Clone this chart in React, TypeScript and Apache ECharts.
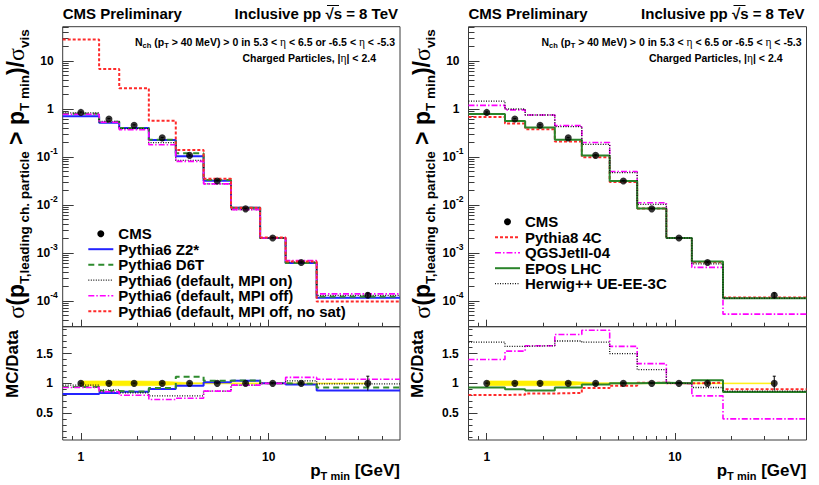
import { useEffect, useRef } from 'react';
import * as echarts from 'echarts';

// ---------------- data ----------------
const binEdges = [0.8, 1.25, 1.6, 2.3, 3.2, 4.5, 6.3, 9, 12.3, 18, 50];
const ptCenters = [1.0, 1.41, 1.92, 2.71, 3.79, 5.32, 7.53, 10.5, 14.9, 33.7];

const cmsValues = [0.85, 0.62, 0.46, 0.25, 0.108, 0.0316, 0.0083, 0.00205, 6.3e-4, 1.31e-4];
const cmsErrors = [0.02, 0.015, 0.01, 0.006, 0.003, 0.0008, 0.0002, 0.00005, 0.00002, 0.000016];
const cmsRatio = [1, 1, 1, 1, 1, 1, 1, 1, 1, 1];
const cmsRatioErrors = [0.004, 0.004, 0.004, 0.004, 0.004, 0.005, 0.006, 0.01, 0.02, 0.12];
const cmsBandHalfWidth = [0.04, 0.04, 0.04, 0.035, 0.01, 0.008, 0.007, 0.007, 0.007, 0.007];

// left panel (Pythia6 tunes)
const z2Star = [0.71, 0.52, 0.4, 0.226, 0.104, 0.032, 0.0087, 0.00205, 6.2e-4, 1.16e-4];
const d6t = [0.8, 0.54, 0.4, 0.23, 0.12, 0.033, 0.0087, 0.00205, 6.2e-4, 1.22e-4];
const mpiOn = [0.83, 0.55, 0.39, 0.2, 0.085, 0.0275, 0.008, 0.00205, 6.5e-4, 1.3e-4];
const mpiOff = [0.78, 0.53, 0.37, 0.18, 0.081, 0.0275, 0.008, 0.00205, 6.9e-4, 1.4e-4];
const mpiOffNoSat = [28, 6.8, 2.7, 0.57, 0.14, 0.035, 0.0088, 0.0021, 6.6e-4, 9.7e-5];

const z2StarRatio = [0.82, 0.84, 0.86, 0.905, 0.96, 1.02, 1.045, 1.0, 0.98, 0.88];
const d6tRatio = [0.94, 0.87, 0.86, 0.92, 1.11, 1.045, 1.05, 1.0, 0.99, 0.93];
const mpiOnRatio = [0.97, 0.89, 0.84, 0.79, 0.79, 0.87, 0.97, 1.0, 1.04, 0.99];
const mpiOffRatio = [0.93, 0.86, 0.8, 0.73, 0.75, 0.87, 0.97, 1.0, 1.1, 1.07];

// right panel (other generators)
const pythia8 = [0.68, 0.5, 0.38, 0.21, 0.099, 0.03, 0.0084, 0.00205, 6.4e-4, 1.18e-4];
const qgsJet = [1.19, 0.96, 0.75, 0.45, 0.2, 0.05, 0.0111, 0.00205, 5.0e-4, 5.3e-5];
const eposLhc = [0.79, 0.56, 0.41, 0.23, 0.107, 0.0316, 0.0084, 0.00205, 6.6e-4, 1.13e-4];
const herwig = [1.46, 1.0, 0.75, 0.43, 0.184, 0.047, 0.0103, 0.00205, 5.9e-4, 1.14e-4];

const pythia8Ratio = [0.805, 0.81, 0.83, 0.84, 0.92, 0.96, 1.01, 1.0, 1.01, 0.9];
const qgsJetRatio = [1.4, 1.54, 1.63, 1.82, 1.89, 1.62, 1.33, 1.0, 0.79, 0.405];
const eposLhcRatio = [0.93, 0.9, 0.88, 0.93, 0.98, 1.0, 1.01, 1.0, 1.05, 0.855];
const herwigRatio = [1.69, 1.62, 1.63, 1.71, 1.69, 1.5, 1.23, 1.0, 0.93, 0.87];

// ticks
const xMajorTicks = [1, 10];
const xMajorTickLabels = ['1', '10'];
const xMinorTicks = [0.9, 2, 3, 4, 5, 6, 7, 8, 9, 20, 30, 40];
const upperYMajorTicks = [1e-4, 1e-3, 1e-2, 1e-1, 1, 10];
const upperYMajorTickLabels = ['10^-4', '10^-3', '10^-2', '10^-1', '1', '10'];
const upperYMinorMantissas = [2, 3, 4, 5, 6, 7, 8, 9];
const upperYMinorDecades = [1e-5, 1e-4, 1e-3, 1e-2, 1e-1, 1, 10];
const lowerYMajorTicks = [0.5, 1, 1.5];
const lowerYMajorTickLabels = ['0.5', '1', '1.5'];
const lowerYMinorTicks = [0.1, 0.2, 0.3, 0.4, 0.6, 0.7, 0.8, 0.9, 1.1, 1.2, 1.3, 1.4, 1.6, 1.7, 1.8, 1.9];

// ---------------- styling ----------------
const FONT = "'Liberation Sans', Arial, Helvetica, sans-serif";
const SERIF = "'Liberation Serif', 'DejaVu Serif', serif";
const FRAME = '#3a3a3a';

type Model = {
  name: string;
  upper: number[];
  ratio: number[] | null;
  color: string;
  width: number;
  dash: number[] | 'solid';
};

const leftModels: Model[] = [
  { name: 'Pythia6 Z2*', upper: z2Star, ratio: z2StarRatio, color: '#2424ff', width: 2, dash: 'solid' },
  { name: 'Pythia6 D6T', upper: d6t, ratio: d6tRatio, color: '#2e8b2e', width: 2, dash: [6, 4] },
  { name: 'Pythia6 (default, MPI on)', upper: mpiOn, ratio: mpiOnRatio, color: '#111111', width: 1.3, dash: [1, 1.5] },
  { name: 'Pythia6 (default, MPI off)', upper: mpiOff, ratio: mpiOffRatio, color: '#ff00ff', width: 1.6, dash: [6, 2, 1.5, 2] },
  { name: 'Pythia6 (default, MPI off, no sat)', upper: mpiOffNoSat, ratio: null, color: '#ff2a2a', width: 2, dash: [3, 2] },
];

const rightModels: Model[] = [
  { name: 'Pythia8 4C', upper: pythia8, ratio: pythia8Ratio, color: '#ff2a2a', width: 2, dash: [3, 2] },
  { name: 'QGSJetII-04', upper: qgsJet, ratio: qgsJetRatio, color: '#ff00ff', width: 1.6, dash: [6, 2, 1.5, 2] },
  { name: 'EPOS LHC', upper: eposLhc, ratio: eposLhcRatio, color: '#2a842a', width: 2, dash: 'solid' },
  { name: 'Herwig++ UE-EE-3C', upper: herwig, ratio: herwigRatio, color: '#111111', width: 1.3, dash: [1, 1.5] },
];

const PANEL_LEFT = [62.7, 468.5];
const PANEL_WIDTH = [337.3, 338];
const UPPER_TOP = 26.7;
const UPPER_H = 300;
const LOWER_TOP = 326.7;
const LOWER_H = 113.3;

const LEGEND_ICON_X = [88.3, 495];
const LEGEND_TOP_Y = [233.7, 221.7];
const LEGEND_STEP = 15.5;

function labelFor(v: number, ticks: number[], labels: string[]) {
  for (let i = 0; i < ticks.length; i++) {
    if (Math.abs(Math.log10(v) - Math.log10(ticks[i])) < 1e-4) return labels[i];
  }
  return '';
}

function richLog(label: string) {
  if (!label) return '';
  const parts = label.split('^');
  if (parts.length === 2) return `{b|${parts[0]}}{sup|${parts[1]}}`;
  return `{p|${label}}`;
}

function stepData(values: number[]) {
  return binEdges.map((e, i) => [e, values[Math.min(i, values.length - 1)]]);
}

function upperYMinorTicks() {
  const out: number[] = [];
  upperYMinorDecades.forEach((d) => upperYMinorMantissas.forEach((m) => out.push(m * d)));
  return out;
}

const tickLine = { color: FRAME, width: 1 };
const labelFont = { fontFamily: FONT, fontWeight: 'bold' as const, fontSize: 12, color: '#000' };

function buildXAxes(gridIndex: number, lower: boolean) {
  const common = {
    gridIndex,
    type: 'log' as const,
    logBase: 10,
    min: 0.8,
    max: 50,
    position: 'bottom' as const,
    axisLine: { show: false, onZero: false },
    splitLine: { show: false },
    minorTick: { show: false },
  };
  return [
    {
      ...common,
      axisTick: { show: true, inside: true, length: 7, customValues: xMajorTicks, lineStyle: tickLine },
      axisLabel: {
        show: lower,
        customValues: xMajorTicks,
        margin: 11,
        ...labelFont,
        formatter: (v: number) => labelFor(v, xMajorTicks, xMajorTickLabels),
      },
    },
    {
      ...common,
      axisTick: { show: true, inside: true, length: 4, customValues: xMinorTicks, lineStyle: tickLine },
      axisLabel: { show: false },
    },
  ];
}

function buildUpperYAxes(gridIndex: number) {
  const common = {
    gridIndex,
    type: 'log' as const,
    logBase: 10,
    min: 2.9e-5,
    max: 52,
    position: 'left' as const,
    axisLine: { show: false, onZero: false },
    splitLine: { show: false },
    minorTick: { show: false },
  };
  return [
    {
      ...common,
      axisTick: { show: true, inside: true, length: 11, customValues: upperYMajorTicks, lineStyle: tickLine },
      axisLabel: {
        show: true,
        customValues: upperYMajorTicks,
        margin: 5,
        formatter: (v: number) => richLog(labelFor(v, upperYMajorTicks, upperYMajorTickLabels)),
        rich: {
          b: { ...labelFont, lineHeight: 20 },
          sup: { ...labelFont, fontSize: 8.5, lineHeight: 9, verticalAlign: 'top' },
          p: { ...labelFont, lineHeight: 20, padding: [0, 4, 0, 0] },
        },
      },
    },
    {
      ...common,
      axisTick: { show: true, inside: true, length: 6, customValues: upperYMinorTicks(), lineStyle: tickLine },
      axisLabel: { show: false },
    },
  ];
}

function buildLowerYAxes(gridIndex: number) {
  const common = {
    gridIndex,
    type: 'value' as const,
    min: 0.05,
    max: 1.95,
    position: 'left' as const,
    axisLine: { show: false, onZero: false },
    splitLine: { show: false },
    minorTick: { show: false },
  };
  return [
    {
      ...common,
      axisTick: { show: true, inside: true, length: 9, customValues: lowerYMajorTicks, lineStyle: tickLine },
      axisLabel: {
        show: true,
        customValues: lowerYMajorTicks,
        margin: 9.7,
        ...labelFont,
        formatter: (v: number) => {
          const i = lowerYMajorTicks.findIndex((t) => Math.abs(t - v) < 1e-6);
          return i >= 0 ? lowerYMajorTickLabels[i] : '';
        },
      },
    },
    {
      ...common,
      axisTick: { show: true, inside: true, length: 4, customValues: lowerYMinorTicks, lineStyle: tickLine },
      axisLabel: { show: false },
    },
  ];
}

function lineSeries(m: Model, values: number[], axisIdx: number) {
  return {
    type: 'line',
    name: m.name,
    xAxisIndex: axisIdx,
    yAxisIndex: axisIdx,
    data: stepData(values),
    step: 'end',
    symbol: 'none',
    showSymbol: false,
    silent: true,
    z: 3,
    lineStyle: { color: m.color, width: m.width, type: m.dash },
  };
}

function errorBarSeries(axisIdx: number, vals: number[], errs: number[]) {
  return {
    type: 'custom',
    xAxisIndex: axisIdx,
    yAxisIndex: axisIdx,
    silent: true,
    z: 4,
    data: ptCenters.map((x, i) => [x, vals[i] - errs[i], vals[i] + errs[i]]),
    encode: { x: 0, y: [1, 2] },
    renderItem: (_p: any, api: any) => {
      const a = api.coord([api.value(0), api.value(1)]);
      const b = api.coord([api.value(0), api.value(2)]);
      return {
        type: 'group',
        children: [
          { type: 'line', shape: { x1: a[0], y1: a[1], x2: b[0], y2: b[1] }, style: { stroke: '#000', lineWidth: 1 } },
          { type: 'line', shape: { x1: b[0] - 1.5, y1: b[1], x2: b[0] + 1.5, y2: b[1] }, style: { stroke: '#000', lineWidth: 1 } },
        ],
      };
    },
  };
}

function bandSeries(axisIdx: number) {
  const segs: number[][] = [];
  for (let i = 0; i < ptCenters.length - 1; i++) {
    segs.push([
      ptCenters[i],
      ptCenters[i + 1],
      cmsRatio[i] - cmsBandHalfWidth[i],
      cmsRatio[i] + cmsBandHalfWidth[i],
      cmsRatio[i + 1] - cmsBandHalfWidth[i + 1],
      cmsRatio[i + 1] + cmsBandHalfWidth[i + 1],
    ]);
  }
  return {
    type: 'custom',
    xAxisIndex: axisIdx,
    yAxisIndex: axisIdx,
    silent: true,
    z: 1,
    data: segs,
    encode: { x: [0, 1], y: [2, 3, 4, 5] },
    renderItem: (_p: any, api: any) => {
      const p1 = api.coord([api.value(0), api.value(2)]);
      const p2 = api.coord([api.value(1), api.value(4)]);
      const p3 = api.coord([api.value(1), api.value(5)]);
      const p4 = api.coord([api.value(0), api.value(3)]);
      return {
        type: 'polygon',
        shape: { points: [p1, p2, p3, p4] },
        style: { fill: '#fff000', stroke: '#fff000', lineWidth: 0.6 },
      };
    },
  };
}

function scatterSeries(axisIdx: number, vals: number[]) {
  return {
    type: 'scatter',
    name: 'CMS',
    xAxisIndex: axisIdx,
    yAxisIndex: axisIdx,
    data: ptCenters.map((x, i) => [x, vals[i]]),
    symbol: 'circle',
    symbolSize: 7,
    silent: true,
    z: 5,
    itemStyle: { color: '#000' },
  };
}

function txt(x: number, y: number, text: string, opts: any = {}) {
  const align = opts.align || 'left';
  const va = opts.verticalAlign || 'middle';
  return {
    type: 'text',
    x,
    y,
    rotation: opts.rotation || 0,
    z: 50,
    silent: true,
    style: {
      text,
      fill: '#000',
      fontFamily: FONT,
      fontWeight: 'bold',
      fontSize: opts.fontSize || 15,
      align,
      verticalAlign: va,
      textAlign: align,
      textVerticalAlign: va,
      rich: opts.rich,
    },
  };
}

function buildGraphics() {
  const g: any[] = [];
  const panelsModels = [leftModels, rightModels];
  for (let p = 0; p < 2; p++) {
    const L = PANEL_LEFT[p];
    const R = L + PANEL_WIDTH[p];
    g.push(txt(L, 13.5, 'CMS Preliminary', { fontSize: 15 }));
    g.push(txt(R - 2, 13.5, 'Inclusive pp √s = 8 TeV', { fontSize: 15, align: 'right' }));
    // overline of the square root
    g.push({
      type: 'line',
      z: 50,
      silent: true,
      shape: { x1: R - 73, y1: 5.5, x2: R - 61, y2: 5.5 },
      style: { stroke: '#000', lineWidth: 1 },
    });
    const infoRich = {
      b: { fontFamily: FONT, fontWeight: 'bold', fontSize: 10.5, lineHeight: 16 },
      sub: { fontFamily: FONT, fontWeight: 'bold', fontSize: 7.5, lineHeight: 8, verticalAlign: 'bottom' },
      g: { fontFamily: SERIF, fontSize: 11.5, lineHeight: 16 },
    };
    g.push(
      txt(R - 5, 41.7, '{b|N}{sub|ch}{b| (p}{sub|T}{b| > 40 MeV) > 0 in 5.3 < }{g|η}{b| < 6.5 or -6.5 < }{g|η}{b| < -5.3}', {
        align: 'right',
        rich: infoRich,
      })
    );
    g.push(txt(R - 24, 58.3, '{b|Charged Particles, |}{g|η}{b|| < 2.4}', { align: 'right', rich: infoRich }));

    // y title upper
    const titleRich = {
      m: { fontFamily: FONT, fontWeight: 'bold', fontSize: 23, lineHeight: 31 },
      s: { fontFamily: SERIF, fontSize: 24, lineHeight: 31 },
      sub: { fontFamily: FONT, fontWeight: 'bold', fontSize: 13.5, lineHeight: 13.5, verticalAlign: 'bottom' },
    };
    g.push(
      txt(L - 46.5, 174, '{s|σ}{m|(p}{sub|T,leading ch. particle}{m| > p}{sub|T min}{m|)/}{s|σ}{sub|vis}', {
        align: 'center',
        rotation: Math.PI / 2,
        rich: titleRich,
      })
    );
    g.push(txt(L - 50.7, 364, 'MC/Data', { align: 'center', rotation: Math.PI / 2, fontSize: 17 }));

    // x title
    const xRich = {
      m: { fontFamily: FONT, fontWeight: 'bold', fontSize: 17, lineHeight: 22 },
      sub: { fontFamily: FONT, fontWeight: 'bold', fontSize: 11, lineHeight: 11, verticalAlign: 'bottom' },
    };
    g.push(txt(R, 470, '{m|p}{sub|T min}{m| [GeV]}', { align: 'right', rich: xRich }));

    // legend
    const ix = LEGEND_ICON_X[p];
    let y = LEGEND_TOP_Y[p];
    g.push({ type: 'circle', z: 50, silent: true, shape: { cx: ix + 12.5, cy: y, r: 3.5 }, style: { fill: '#000' } });
    g.push(txt(ix + 30, y, 'CMS', { fontSize: 15 }));
    panelsModels[p].forEach((m) => {
      y += LEGEND_STEP;
      g.push({
        type: 'line',
        z: 50,
        silent: true,
        shape: { x1: ix, y1: y, x2: ix + 25, y2: y },
        style: { stroke: m.color, lineWidth: m.width, lineDash: m.dash === 'solid' ? null : m.dash },
      });
      g.push(txt(ix + 30, y, m.name, { fontSize: 15 }));
    });
  }
  return g;
}

function buildOption() {
  const grids: any[] = [];
  const xAxes: any[] = [];
  const yAxes: any[] = [];
  const series: any[] = [];
  const panelsModels = [leftModels, rightModels];

  for (let p = 0; p < 2; p++) {
    const upperGrid = p * 2;
    const lowerGrid = p * 2 + 1;
    grids.push({
      left: PANEL_LEFT[p], top: UPPER_TOP, width: PANEL_WIDTH[p], height: UPPER_H,
      show: true, borderColor: FRAME, borderWidth: 1, backgroundColor: 'transparent', containLabel: false, outerBoundsMode: 'none',
    });
    grids.push({
      left: PANEL_LEFT[p], top: LOWER_TOP, width: PANEL_WIDTH[p], height: LOWER_H,
      show: true, borderColor: FRAME, borderWidth: 1, backgroundColor: 'transparent', containLabel: false, outerBoundsMode: 'none',
    });
    xAxes.push(...buildXAxes(upperGrid, false));
    yAxes.push(...buildUpperYAxes(upperGrid));
    xAxes.push(...buildXAxes(lowerGrid, true));
    yAxes.push(...buildLowerYAxes(lowerGrid));

    const ua = upperGrid * 2;
    const la = lowerGrid * 2;
    panelsModels[p].forEach((m) => series.push(lineSeries(m, m.upper, ua)));
    series.push(errorBarSeries(ua, cmsValues, cmsErrors));
    series.push(scatterSeries(ua, cmsValues));

    series.push(bandSeries(la));
    panelsModels[p].forEach((m) => {
      if (m.ratio) series.push(lineSeries(m, m.ratio, la));
    });
    series.push(errorBarSeries(la, cmsRatio, cmsRatioErrors));
    series.push(scatterSeries(la, cmsRatio));
  }

  return {
    animation: false,
    backgroundColor: '#ffffff',
    grid: grids,
    xAxis: xAxes,
    yAxis: yAxes,
    series,
    graphic: { elements: buildGraphics() },
  };
}

export default function App() {
  const ref = useRef<HTMLDivElement>(null);
  useEffect(() => {
    if (!ref.current) return;
    const chart = echarts.init(ref.current, null, { renderer: 'svg' });
    chart.setOption(buildOption() as any);
    return () => chart.dispose();
  }, []);
  return (
    <div
      ref={ref}
      style={{ position: 'fixed', left: 0, top: 0, width: 819, height: 485, background: '#fff' }}
    />
  );
}
